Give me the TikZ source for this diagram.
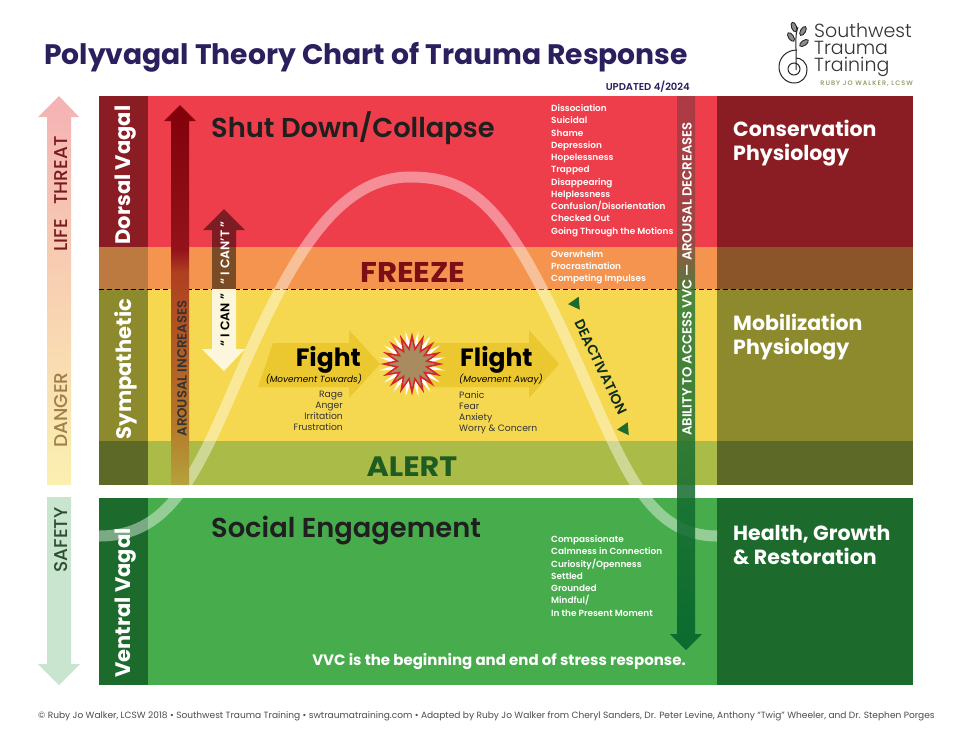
\documentclass[tikz,border=0pt]{standalone}
\usepackage{fontspec}
\setmainfont{Poppins}
\newfontfamily\semifont{Poppins SemiBold}
\newfontfamily\medfont{Poppins Medium}
\newfontfamily\lightfont{Poppins Light}
\newfontfamily\widefont[FakeStretch=1.08]{Poppins Bold}
\newfontfamily\spacedfont[LetterSpace=16]{Poppins Medium}
\usetikzlibrary{shapes,arrows,positioning}

\definecolor{dorsalred}{HTML}{EE3E4B}
\definecolor{dorsaldark}{HTML}{8A1C23}
\definecolor{freezeorange}{HTML}{F4944F}
\definecolor{freezeleft}{HTML}{BD7A40}
\definecolor{freezeright}{HTML}{8C5429}
\definecolor{sympyellow}{HTML}{F5D84F}
\definecolor{sympdark}{HTML}{8D8A2E}
\definecolor{alertgreen}{HTML}{ABBB47}
\definecolor{alertdark}{HTML}{5D6A27}
\definecolor{ventralgreen}{HTML}{47AC4B}
\definecolor{ventraldark}{HTML}{1D6B2C}
\definecolor{titlenavy}{HTML}{2B1F5E}
\definecolor{fightgold}{HTML}{EBC730}
\definecolor{cantred}{HTML}{7E1C24}
\definecolor{cantbrown}{HTML}{7A4B24}
\definecolor{cancream}{HTML}{FCF6DC}
\definecolor{burstred}{HTML}{D9262C}
\definecolor{bursttan}{HTML}{A88B5E}
\definecolor{logoolive}{HTML}{8E8E58}
\definecolor{threatred}{HTML}{7A1A1E}
\definecolor{dangertan}{HTML}{A08048}
\definecolor{safetygreen}{HTML}{2A4F2E}
\definecolor{freezetext}{HTML}{7A1015}
\definecolor{alerttext}{HTML}{1F5C22}
\definecolor{deacttext}{HTML}{0F2D1A}
\definecolor{threattop}{HTML}{F4B2B4}
\definecolor{threatmid}{HTML}{F8D2B8}
\definecolor{threatlow}{HTML}{FBF0B0}
\definecolor{safetyarrow}{HTML}{CAE5CF}
\definecolor{arousala}{HTML}{B4A33C}
\definecolor{arousalb}{HTML}{B5782A}
\definecolor{arousalc}{HTML}{AF3F20}
\definecolor{arousald}{HTML}{941219}
\definecolor{arousale}{HTML}{820009}
\definecolor{abilitya}{HTML}{00602B}
\definecolor{abilityb}{HTML}{2E7A35}
\definecolor{abilityc}{HTML}{8E4A42}
\definecolor{abilityd}{HTML}{A33943}

\pgfdeclareverticalshading{arousalshade}{100bp}{color(0bp)=(arousala);color(25bp)=(arousala);color(33bp)=(arousalb);color(53bp)=(arousalc);color(56bp)=(arousald);color(75bp)=(arousale);color(100bp)=(arousale)}
\pgfdeclareverticalshading{abilityshade}{100bp}{color(0bp)=(abilitya);color(25bp)=(abilitya);color(57bp)=(abilityb);color(62bp)=(abilityc);color(75bp)=(abilityd);color(100bp)=(abilityd)}

\tikzset{
  band/.style={inner sep=0pt, outer sep=0pt, minimum height=#1},
  sidecell/.style={band=#1, minimum width=49pt},
  midcell/.style={band=#1, minimum width=569pt},
  physcell/.style={band=#1, minimum width=196pt},
  vaglabel/.style={rotate=90, text=white, font=\fontsize{21}{21}\selectfont\bfseries, inner sep=0pt},
  physlabel/.style={anchor=west, align=left, text=white, inner sep=0pt, font=\fontsize{20.5}{24.7}\selectfont\bfseries},
  zonelabel/.style={anchor=west, inner sep=0pt, text=black!88, font=\fontsize{27.3}{27.3}\selectfont\semifont},
  statelabel/.style={inner sep=0pt, font=\fontsize{28.5}{28.5}\selectfont\widefont},
  symptoms/.style={anchor=north west, align=left, inner sep=0pt, text=white, font=\fontsize{8.9}{12.25}\selectfont\semifont},
  moves/.style={inner sep=0pt, text=black!80, font=\fontsize{9.2}{11}\selectfont},
  arrowtext/.style={rotate=90, inner sep=0pt, font=\fontsize{13.2}{13.2}\selectfont\semifont},
  sidetext/.style={rotate=90, inner sep=0pt, font=\fontsize{18.5}{18.5}\selectfont\medfont},
  leaf/.style={ellipse, draw=black!85, fill=black!45, line width=.9pt, inner sep=0pt, minimum width=10pt, minimum height=5pt},
  burst/.style={star, star points=16, inner sep=0pt},
  marker/.style={regular polygon, regular polygon sides=3, fill=ventraldark, inner sep=0pt, minimum size=15pt}
}

\begin{document}
\begin{tikzpicture}[x=1pt, y=-1pt, node distance=0pt]
  \useasboundingbox (0,0) rectangle (958,740);
  \fill[white] (0,0) rectangle (958,740);

  % rows of the chart
  \node[sidecell=151pt, fill=dorsaldark, anchor=north west] (dorsalside) at (99,96) {};
  \node[midcell=151pt, fill=dorsalred] (dorsalmid) [right=of dorsalside] {};
  \node[physcell=151pt, fill=dorsaldark] (dorsalphys) [right=of dorsalmid] {};
  \node[sidecell=42pt, fill=freezeleft] (freezeside) [below=of dorsalside] {};
  \node[midcell=42pt, fill=freezeorange] (freezemid) [right=of freezeside] {};
  \node[physcell=42pt, fill=freezeright] (freezephys) [right=of freezemid] {};
  \node[sidecell=152pt, fill=sympdark] (sympside) [below=of freezeside] {};
  \node[midcell=152pt, fill=sympyellow] (sympmid) [right=of sympside] {};
  \node[physcell=152pt, fill=sympdark] (sympphys) [right=of sympmid] {};
  \node[sidecell=44pt, fill=alertdark] (alertside) [below=of sympside] {};
  \node[midcell=44pt, fill=alertgreen] (alertmid) [right=of alertside] {};
  \node[physcell=44pt, fill=alertdark] (alertphys) [right=of alertmid] {};
  \node[sidecell=187pt, fill=ventraldark, anchor=north west] (ventralside) at (99,498) {};
  \node[midcell=187pt, fill=ventralgreen] (ventralmid) [right=of ventralside] {};
  \node[physcell=187pt, fill=ventraldark] (ventralphys) [right=of ventralmid] {};
  \draw[line width=.8pt, dash pattern=on 5pt off 3pt] (sympside.north west) -- (sympphys.north east);

  % arousal curve
  \draw[white, opacity=.42, line width=11pt]
    (99,536) .. controls (165,536) and (192,485) .. (233,390)
    .. controls (283,275) and (330,177) .. (410,177)
    .. controls (480,177) and (512,215) .. (585,380)
    .. controls (625,470) and (650,536) .. (717,536);

  % threat arrows on the far left
  \shade[top color=threattop, middle color=threatmid, bottom color=threatlow]
    (59,96) -- (79,117) -- (71,117) -- (71,485) -- (47,485) -- (47,117) -- (38,117) -- cycle;
  \fill[safetyarrow]
    (47,497) -- (71,497) -- (71,664) -- (80,664) -- (59,685) -- (38,664) -- (47,664) -- cycle;

  % arousal arrows
  \shade[shading=arousalshade]
    (180,105) -- (196,121) -- (189,121) -- (189,485) -- (171,485) -- (171,121) -- (164,121) -- cycle;
  \fill[cantred]
    (224,209) -- (245,230) -- (236,230) -- (236,247) -- (212,247) -- (212,230) -- (203,230) -- cycle;
  \fill[cantbrown] (212,247) rectangle (236,289);
  \fill[cancream]
    (212,289) -- (236,289) -- (236,349) -- (245,349) -- (224,371) -- (202,349) -- (212,349) -- cycle;
  \shade[shading=abilityshade, opacity=.85]
    (677,96) -- (695,96) -- (695,634) -- (702,634) -- (686,650) -- (670,634) -- (677,634) -- cycle;

  % fight and flight
  \fill[fightgold] (273,343) -- (349,343) -- (349,330) -- (380,364) -- (349,398) -- (349,387) -- (258,387) -- cycle;
  \fill[fightgold] (420,343) -- (529,343) -- (529,330) -- (559,364) -- (529,398) -- (529,387) -- (420,387) -- cycle;
  \node[burst, fill=white, star point ratio=2.3, minimum size=67pt, rotate=11.25] (burstwhite) at (412,364) {};
  \node[burst, fill=bursttan, draw=burstred, line width=1.6pt, star point ratio=1.85, minimum size=56pt] (burstcore) at (412,364) {};

  % headings
  \node[anchor=west, inner sep=0pt, text=titlenavy, font=\fontsize{28.2}{28.2}\selectfont\bfseries] (charttitle) at (44,57) {Polyvagal Theory Chart of Trauma Response};
  \node[anchor=east, inner sep=0pt, text=titlenavy, font=\fontsize{10}{10}\selectfont\semifont] (updated) at (690,87) {UPDATED 4/2024};

  % logo
  \draw[black!85, line width=1pt] (798,27) .. controls (794,38) and (797,48) .. (796,70);
  \draw[black!85, line width=1pt] (797,50) .. controls (786,50) and (779,58) .. (779,67)
    .. controls (779,76) and (786,83) .. (794,83) .. controls (802,83) and (807,77) .. (807,70)
    .. controls (807,62) and (801,58) .. (796,58);
  \node[circle, draw=black!85, line width=1pt, inner sep=0pt, minimum size=12pt] (logoring) at (794,69) {};
  \node[leaf, rotate=-70] (leafa) at (794,27) {};
  \node[leaf, rotate=-55] (leafb) at (791,37) {};
  \node[leaf, rotate=60] (leafc) at (803,31) {};
  \node[leaf, rotate=35] (leafd) at (804,43) {};
  \node[anchor=north west, align=left, inner sep=0pt, text=black!80, font=\fontsize{19}{17}\selectfont\lightfont] (logoname) at (814,23) {Southwest\\Trauma\\Training};
  \node[anchor=east, inner sep=0pt, text=logoolive, font=\fontsize{6.5}{6.5}\selectfont\spacedfont] (logoperson) at (913,83.5) {RUBY JO WALKER, LCSW};

  % threat labels
  \node[sidetext, text=threatred] (lifethreat) at (61,194) {LIFE\ \ \ THREAT};
  \node[sidetext, text=dangertan] (danger) at (61,410) {DANGER};
  \node[sidetext, text=safetygreen] (safety) at (61,540) {SAFETY};

  % vagal labels
  \node[vaglabel] (dorsal) at (126,175) {Dorsal Vagal};
  \node[vaglabel] (sympathetic) at (126,369) {Sympathetic};
  \node[vaglabel] (ventral) at (126,603) {Ventral Vagal};

  % physiology labels
  \node[physlabel] (conservation) at (733,143) {Conservation\\Physiology};
  \node[physlabel] (mobilization) at (733,337) {Mobilization\\Physiology};
  \node[physlabel] (health) at (733,545) {Health, Growth\\\& Restoration};

  % state names
  \node[zonelabel] (shutdown) at (211,128) {Shut Down/Collapse};
  \node[statelabel, text=freezetext] (freeze) at (413,272) {FREEZE};
  \node[statelabel, text=alerttext, font=\fontsize{28}{28}\selectfont\widefont] (alert) at (412,467) {ALERT};
  \node[zonelabel] (social) at (211,531) {Social Engagement};
  \node[anchor=east, inner sep=0pt, text=white, font=\fontsize{15}{15}\selectfont\bfseries] (vvcnote) at (686,662) {VVC is the beginning and end of stress response.};

  % symptom lists
  \node[symptoms] (dorsallist) at (551,104.5) {Dissociation\\Suicidal\\Shame\\Depression\\Hopelessness\\Trapped\\Disappearing\\Helplessness\\Confusion/Disorientation\\Checked Out\\Going Through the Motions};
  \node[symptoms] (freezelist) at (551,250.5) {Overwhelm\\Procrastination\\Competing Impulses};
  \node[symptoms] (ventrallist) at (551,535.5) {Compassionate\\Calmness in Connection\\Curiosity/Openness\\Settled\\Grounded\\Mindful/\\In the Present Moment};

  % arrow labels
  \node[arrowtext, text=black!80] (arousalup) at (182,368.5) {AROUSAL INCREASES};
  \node[arrowtext, text=white, font=\fontsize{12.5}{12.5}\selectfont\semifont] (icant) at (225,253) {“ I CAN’T ”};
  \node[arrowtext, text=black, font=\fontsize{12.5}{12.5}\selectfont\semifont] (ican) at (225,320) {“ I CAN ”};
  \node[arrowtext, text=white] (ability) at (687,279) {ABILITY TO ACCESS VVC — AROUSAL DECREASES};

  % deactivation
  \node[marker, rotate=95] (deactup) at (575.5,303.5) {};
  \node[inner sep=0pt, rotate=-64.4, text=deacttext, font=\fontsize{14}{14}\selectfont\semifont] (deactivation) at (601,367) {DEACTIVATION};
  \node[marker, rotate=95] (deactdown) at (624.5,429) {};

  % fight and flight labels
  \node[anchor=east, inner sep=0pt, font=\fontsize{25}{25}\selectfont\bfseries] (fight) at (361,360) {Fight};
  \node[anchor=east, inner sep=0pt, font=\fontsize{8.9}{8.9}\selectfont\itshape] (fightnote) at (362,379.5) {(Movement Towards)};
  \node[moves, anchor=north east, align=right] (fightlist) at (343,391) {Rage\\Anger\\Irritation\\Frustration};
  \node[anchor=west, inner sep=0pt, font=\fontsize{25}{25}\selectfont\bfseries] (flight) at (460,360) {Flight};
  \node[anchor=west, inner sep=0pt, font=\fontsize{9}{9}\selectfont\itshape] (flightnote) at (459,379.5) {(Movement Away)};
  \node[moves, anchor=north west, align=left] (flightlist) at (459,391) {Panic\\Fear\\Anxiety\\Worry \& Concern};

  % footer
  \node[anchor=west, inner sep=0pt, text=black!70, font=\fontsize{9.05}{9.05}\selectfont] (footer) at (38,716) {© Ruby Jo Walker, LCSW 2018 • Southwest Trauma Training • swtraumatraining.com • Adapted by Ruby Jo Walker from Cheryl Sanders, Dr. Peter Levine, Anthony “Twig” Wheeler, and Dr. Stephen Porges};
\end{tikzpicture}
\end{document}
